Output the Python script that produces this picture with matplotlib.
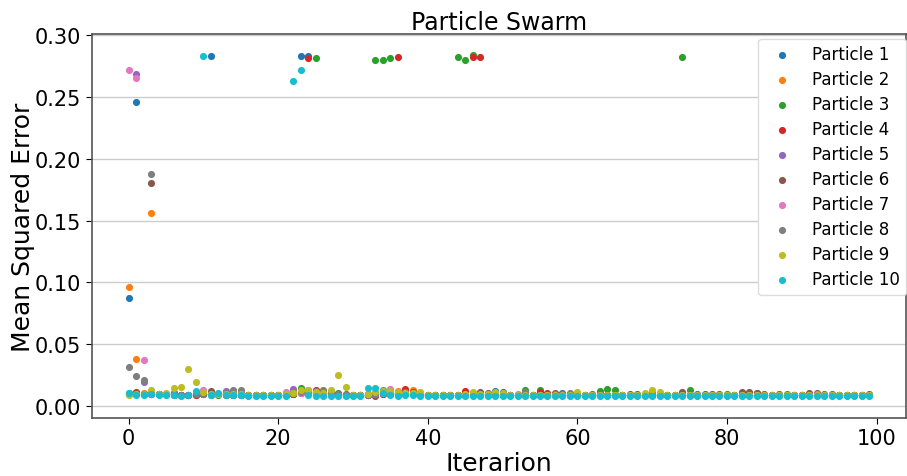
import matplotlib
matplotlib.use('Agg')
import matplotlib.pyplot as plt

iterations = list(range(100))
labels = ['Particle %d' % i for i in range(1, 11)]

p1 = [0.0871, 0.2458, 0.0095, 0.0100, 0.0092, 0.0095, 0.0090, 0.0088, 0.0090, 0.0100,
      0.0105, 0.2833, 0.0095, 0.0098, 0.0095, 0.0092, 0.0088, 0.0088, 0.0087, 0.0086,
      0.0086, 0.0090, 0.0095, 0.2833, 0.2833, 0.0100, 0.0095, 0.0092, 0.0090, 0.0088,
      0.0086, 0.0087, 0.0092, 0.0095, 0.0100, 0.0098, 0.0095, 0.0100, 0.0098, 0.0092,
      0.0087, 0.0086, 0.0086, 0.0086, 0.0088, 0.0092, 0.0092, 0.0095, 0.0092, 0.0120,
      0.0115, 0.0086, 0.0086, 0.0088, 0.0086, 0.0090, 0.0090, 0.0092, 0.0100, 0.0092,
      0.0090, 0.0086, 0.0088, 0.0090, 0.0090, 0.0088, 0.0086, 0.0092, 0.0094, 0.0088,
      0.0090, 0.0088, 0.0086, 0.0086, 0.0088, 0.0088, 0.0094, 0.0094, 0.0088, 0.0086,
      0.0086, 0.0086, 0.0088, 0.0088, 0.0088, 0.0086, 0.0086, 0.0086, 0.0086, 0.0085,
      0.0085, 0.0088, 0.0086, 0.0086, 0.0086, 0.0085, 0.0085, 0.0085, 0.0085, 0.0085]
p2 = [0.0962, 0.0380, 0.0100, 0.1560, 0.0095, 0.0095, 0.0092, 0.0090, 0.0090, 0.0095,
      0.0098, 0.0095, 0.0092, 0.0092, 0.0090, 0.0090, 0.0088, 0.0088, 0.0087, 0.0087,
      0.0086, 0.0090, 0.0100, 0.0110, 0.0130, 0.0110, 0.0100, 0.0095, 0.0092, 0.0090,
      0.0087, 0.0087, 0.0090, 0.0100, 0.0105, 0.0105, 0.0120, 0.0105, 0.0130, 0.0100,
      0.0088, 0.0087, 0.0086, 0.0086, 0.0086, 0.0088, 0.0090, 0.0090, 0.0088, 0.0090,
      0.0088, 0.0086, 0.0086, 0.0086, 0.0086, 0.0088, 0.0088, 0.0088, 0.0088, 0.0088,
      0.0088, 0.0086, 0.0086, 0.0088, 0.0088, 0.0088, 0.0086, 0.0086, 0.0086, 0.0088,
      0.0088, 0.0088, 0.0086, 0.0086, 0.0086, 0.0086, 0.0086, 0.0086, 0.0086, 0.0086,
      0.0086, 0.0086, 0.0086, 0.0086, 0.0086, 0.0085, 0.0085, 0.0085, 0.0085, 0.0085,
      0.0085, 0.0085, 0.0085, 0.0085, 0.0085, 0.0085, 0.0085, 0.0085, 0.0085, 0.0085]
p3 = [0.0098, 0.0100, 0.0095, 0.0095, 0.0092, 0.0092, 0.0090, 0.0090, 0.0088, 0.0090,
      0.0092, 0.0090, 0.0090, 0.0090, 0.0088, 0.0088, 0.0088, 0.0087, 0.0087, 0.0087,
      0.0086, 0.0088, 0.0095, 0.0140, 0.0120, 0.2817, 0.0105, 0.0100, 0.0100, 0.0092,
      0.0088, 0.0087, 0.0090, 0.2800, 0.2800, 0.2817, 0.0095, 0.0095, 0.0092, 0.0090,
      0.0087, 0.0086, 0.0086, 0.0086, 0.2822, 0.2800, 0.2843, 0.0092, 0.0090, 0.0090,
      0.0088, 0.0086, 0.0086, 0.0125, 0.0086, 0.0130, 0.0092, 0.0090, 0.0088, 0.0088,
      0.0088, 0.0086, 0.0095, 0.0120, 0.0138, 0.0125, 0.0086, 0.0086, 0.0088, 0.0088,
      0.0100, 0.0088, 0.0086, 0.0086, 0.2822, 0.0130, 0.0088, 0.0088, 0.0088, 0.0088,
      0.0092, 0.0086, 0.0088, 0.0090, 0.0105, 0.0086, 0.0086, 0.0088, 0.0092, 0.0085,
      0.0085, 0.0088, 0.0088, 0.0092, 0.0092, 0.0085, 0.0085, 0.0085, 0.0085, 0.0086]
p4 = [0.0098, 0.0110, 0.0095, 0.0095, 0.0092, 0.0092, 0.0092, 0.0088, 0.0088, 0.0090,
      0.0092, 0.0092, 0.0092, 0.0090, 0.0090, 0.0088, 0.0088, 0.0087, 0.0087, 0.0087,
      0.0086, 0.0088, 0.0092, 0.0100, 0.2817, 0.0130, 0.0110, 0.0100, 0.0092, 0.0090,
      0.0087, 0.0087, 0.0090, 0.0092, 0.0095, 0.0100, 0.2827, 0.0135, 0.0110, 0.0092,
      0.0087, 0.0086, 0.0086, 0.0086, 0.0088, 0.0120, 0.2827, 0.2827, 0.0092, 0.0090,
      0.0088, 0.0086, 0.0086, 0.0088, 0.0086, 0.0110, 0.0100, 0.0092, 0.0088, 0.0088,
      0.0088, 0.0086, 0.0086, 0.0088, 0.0088, 0.0088, 0.0086, 0.0086, 0.0086, 0.0086,
      0.0088, 0.0086, 0.0086, 0.0086, 0.0086, 0.0086, 0.0086, 0.0086, 0.0086, 0.0086,
      0.0086, 0.0086, 0.0088, 0.0088, 0.0088, 0.0085, 0.0085, 0.0085, 0.0085, 0.0085,
      0.0085, 0.0085, 0.0085, 0.0085, 0.0085, 0.0085, 0.0085, 0.0085, 0.0085, 0.0085]
p5 = [0.0100, 0.2690, 0.0195, 0.0098, 0.0092, 0.0095, 0.0100, 0.0090, 0.0090, 0.0095,
      0.0098, 0.0095, 0.0095, 0.0120, 0.0095, 0.0092, 0.0088, 0.0088, 0.0087, 0.0087,
      0.0086, 0.0092, 0.0135, 0.0110, 0.0105, 0.0100, 0.0095, 0.0092, 0.0090, 0.0088,
      0.0086, 0.0087, 0.0090, 0.0092, 0.0100, 0.0100, 0.0095, 0.0110, 0.0100, 0.0092,
      0.0087, 0.0086, 0.0086, 0.0086, 0.0088, 0.0090, 0.0090, 0.0092, 0.0090, 0.0092,
      0.0090, 0.0086, 0.0086, 0.0088, 0.0086, 0.0088, 0.0088, 0.0090, 0.0090, 0.0088,
      0.0088, 0.0086, 0.0086, 0.0088, 0.0088, 0.0088, 0.0086, 0.0088, 0.0088, 0.0086,
      0.0088, 0.0086, 0.0086, 0.0086, 0.0086, 0.0086, 0.0090, 0.0090, 0.0086, 0.0086,
      0.0086, 0.0086, 0.0086, 0.0086, 0.0086, 0.0085, 0.0085, 0.0085, 0.0085, 0.0085,
      0.0085, 0.0086, 0.0086, 0.0085, 0.0085, 0.0085, 0.0085, 0.0085, 0.0085, 0.0085]
p6 = [0.0098, 0.0100, 0.0095, 0.1803, 0.0092, 0.0095, 0.0100, 0.0088, 0.0090, 0.0095,
      0.0098, 0.0120, 0.0095, 0.0098, 0.0100, 0.0092, 0.0088, 0.0088, 0.0087, 0.0087,
      0.0086, 0.0090, 0.0095, 0.0110, 0.0105, 0.0110, 0.0120, 0.0100, 0.0092, 0.0090,
      0.0086, 0.0087, 0.0090, 0.0078, 0.0095, 0.0098, 0.0095, 0.0100, 0.0100, 0.0092,
      0.0087, 0.0086, 0.0086, 0.0086, 0.0088, 0.0090, 0.0092, 0.0110, 0.0100, 0.0092,
      0.0088, 0.0086, 0.0086, 0.0088, 0.0086, 0.0090, 0.0090, 0.0100, 0.0090, 0.0090,
      0.0088, 0.0086, 0.0086, 0.0088, 0.0088, 0.0088, 0.0086, 0.0086, 0.0088, 0.0088,
      0.0088, 0.0088, 0.0086, 0.0090, 0.0110, 0.0090, 0.0088, 0.0088, 0.0092, 0.0092,
      0.0086, 0.0086, 0.0110, 0.0110, 0.0100, 0.0092, 0.0086, 0.0092, 0.0086, 0.0085,
      0.0085, 0.0105, 0.0100, 0.0085, 0.0085, 0.0085, 0.0085, 0.0085, 0.0085, 0.0095]
p7 = [0.2717, 0.2655, 0.0367, 0.0095, 0.0092, 0.0092, 0.0090, 0.0088, 0.0088, 0.0110,
      0.0130, 0.0095, 0.0092, 0.0092, 0.0092, 0.0090, 0.0088, 0.0088, 0.0087, 0.0087,
      0.0086, 0.0110, 0.0100, 0.0100, 0.0100, 0.0100, 0.0095, 0.0092, 0.0090, 0.0088,
      0.0086, 0.0087, 0.0090, 0.0092, 0.0100, 0.0135, 0.0100, 0.0098, 0.0095, 0.0092,
      0.0087, 0.0086, 0.0086, 0.0090, 0.0088, 0.0090, 0.0090, 0.0090, 0.0088, 0.0090,
      0.0088, 0.0086, 0.0092, 0.0088, 0.0086, 0.0088, 0.0088, 0.0088, 0.0088, 0.0088,
      0.0088, 0.0086, 0.0086, 0.0088, 0.0088, 0.0088, 0.0086, 0.0086, 0.0086, 0.0086,
      0.0088, 0.0086, 0.0086, 0.0086, 0.0086, 0.0086, 0.0086, 0.0086, 0.0086, 0.0086,
      0.0086, 0.0086, 0.0086, 0.0086, 0.0086, 0.0085, 0.0085, 0.0085, 0.0085, 0.0085,
      0.0085, 0.0085, 0.0095, 0.0085, 0.0085, 0.0085, 0.0085, 0.0085, 0.0085, 0.0085]
p8 = [0.0313, 0.0240, 0.0205, 0.1879, 0.0092, 0.0095, 0.0095, 0.0088, 0.0090, 0.0095,
      0.0098, 0.0095, 0.0098, 0.0100, 0.0130, 0.0130, 0.0088, 0.0088, 0.0087, 0.0087,
      0.0086, 0.0090, 0.0100, 0.0110, 0.0110, 0.0120, 0.0130, 0.0110, 0.0092, 0.0090,
      0.0086, 0.0087, 0.0090, 0.0095, 0.0130, 0.0105, 0.0100, 0.0100, 0.0100, 0.0092,
      0.0087, 0.0086, 0.0086, 0.0086, 0.0088, 0.0090, 0.0092, 0.0095, 0.0092, 0.0092,
      0.0090, 0.0086, 0.0086, 0.0110, 0.0086, 0.0090, 0.0090, 0.0092, 0.0092, 0.0100,
      0.0088, 0.0086, 0.0086, 0.0088, 0.0088, 0.0088, 0.0086, 0.0086, 0.0088, 0.0086,
      0.0088, 0.0086, 0.0086, 0.0086, 0.0086, 0.0086, 0.0086, 0.0086, 0.0086, 0.0086,
      0.0086, 0.0086, 0.0086, 0.0086, 0.0086, 0.0085, 0.0085, 0.0085, 0.0085, 0.0085,
      0.0085, 0.0085, 0.0085, 0.0085, 0.0085, 0.0085, 0.0085, 0.0085, 0.0085, 0.0085]
p9 = [0.0090, 0.0095, 0.0092, 0.0130, 0.0092, 0.0100, 0.0145, 0.0149, 0.0300, 0.0191,
      0.0110, 0.0095, 0.0095, 0.0098, 0.0095, 0.0092, 0.0088, 0.0088, 0.0087, 0.0087,
      0.0086, 0.0095, 0.0100, 0.0130, 0.0130, 0.0110, 0.0105, 0.0130, 0.0245, 0.0150,
      0.0088, 0.0087, 0.0092, 0.0110, 0.0120, 0.0120, 0.0110, 0.0105, 0.0100, 0.0115,
      0.0087, 0.0086, 0.0086, 0.0086, 0.0088, 0.0092, 0.0110, 0.0092, 0.0092, 0.0110,
      0.0100, 0.0086, 0.0086, 0.0088, 0.0090, 0.0090, 0.0088, 0.0090, 0.0090, 0.0090,
      0.0110, 0.0086, 0.0086, 0.0088, 0.0088, 0.0088, 0.0086, 0.0086, 0.0086, 0.0105,
      0.0130, 0.0110, 0.0086, 0.0086, 0.0086, 0.0086, 0.0086, 0.0086, 0.0086, 0.0086,
      0.0086, 0.0086, 0.0086, 0.0086, 0.0086, 0.0085, 0.0085, 0.0085, 0.0085, 0.0085,
      0.0085, 0.0085, 0.0085, 0.0085, 0.0085, 0.0085, 0.0085, 0.0085, 0.0085, 0.0085]
p10 = [0.0105, 0.0090, 0.0090, 0.0092, 0.0090, 0.0090, 0.0085, 0.0082, 0.0085, 0.0120,
       0.2833, 0.0090, 0.0100, 0.0088, 0.0086, 0.0086, 0.0082, 0.0082, 0.0080, 0.0080,
       0.0080, 0.0082, 0.2626, 0.2720, 0.0085, 0.0082, 0.0082, 0.0082, 0.0082, 0.0080,
       0.0080, 0.0080, 0.0145, 0.0145, 0.0100, 0.0090, 0.0082, 0.0085, 0.0085, 0.0082,
       0.0080, 0.0080, 0.0080, 0.0080, 0.0080, 0.0080, 0.0082, 0.0082, 0.0082, 0.0082,
       0.0082, 0.0080, 0.0080, 0.0080, 0.0080, 0.0080, 0.0080, 0.0080, 0.0080, 0.0080,
       0.0080, 0.0080, 0.0080, 0.0080, 0.0080, 0.0080, 0.0080, 0.0080, 0.0080, 0.0080,
       0.0080, 0.0080, 0.0080, 0.0080, 0.0080, 0.0080, 0.0080, 0.0080, 0.0080, 0.0080,
       0.0080, 0.0080, 0.0080, 0.0080, 0.0080, 0.0080, 0.0080, 0.0080, 0.0080, 0.0079,
       0.0079, 0.0079, 0.0079, 0.0079, 0.0079, 0.0079, 0.0079, 0.0079, 0.0079, 0.0079]

particles = [p1, p2, p3, p4, p5, p6, p7, p8, p9, p10]

fig = plt.figure(figsize=(9.07, 4.77), dpi=100)
ax = fig.add_axes([0.101, 0.122, 0.898, 0.805])

for errs, name in zip(particles, labels):
    ax.scatter(iterations, errs, s=17, label=name, zorder=3)

ax.set_ylim(-0.0098, 0.3012)
ax.set_xlim(-4.95, 103.95)
ax.set_xticks([0, 20, 40, 60, 80, 100])
ax.set_yticks([0.0, 0.05, 0.10, 0.15, 0.20, 0.25, 0.30])
ax.set_yticklabels(['0.00', '0.05', '0.10', '0.15', '0.20', '0.25', '0.30'])
ax.yaxis.grid(True, color='#cccccc', linewidth=1)
ax.set_axisbelow(True)
for side in ['left', 'top', 'bottom', 'right']:
    ax.spines[side].set_color('#555555')
    ax.spines[side].set_linewidth(1.2)
ax.tick_params(labelsize=15, colors='black', length=4)
ax.set_xlabel('Iterarion', fontsize=18, labelpad=2)
ax.set_ylabel('Mean Squared Error', fontsize=18, labelpad=0)
ax.set_title('Particle Swarm', fontsize=17, pad=3)
ax.legend(loc='upper right', bbox_to_anchor=(1.0, 0.987), borderaxespad=0,
          fontsize=12, framealpha=1.0, edgecolor='#dddddd', labelspacing=0.42)

fig.savefig('out.png', dpi=100)
